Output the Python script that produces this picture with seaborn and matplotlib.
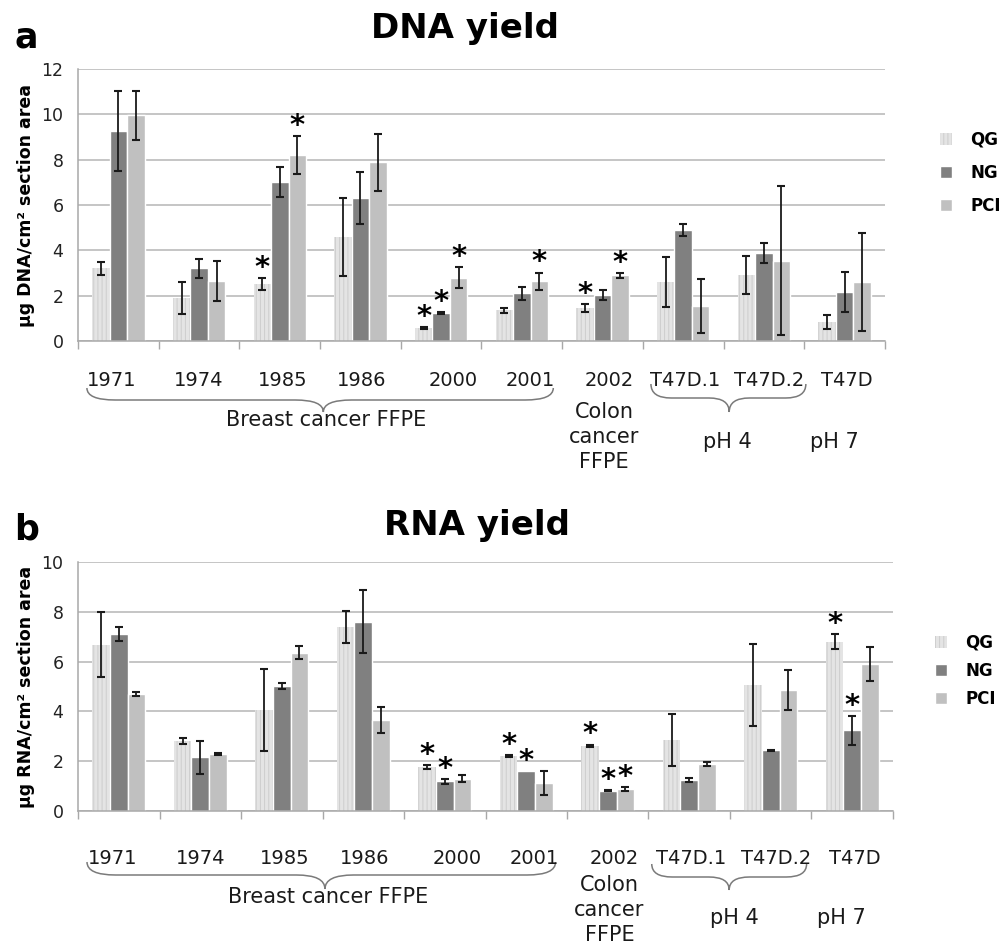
import numpy as np
import pandas as pd
import seaborn as sns
import matplotlib
matplotlib.use('Agg')
from matplotlib import pyplot as plt
from matplotlib.patches import Patch, PathPatch
from matplotlib.path import Path
from matplotlib.transforms import blended_transform_factory

samples = ['1971', '1974', '1985', '1986', '2000', '2001', '2002', 'T47D.1', 'T47D.2', 'T47D']
methods = ['QG', 'NG', 'PCI']

# DNA yield (ug DNA / cm2 section area)
dna_qg = [3.2, 1.9, 2.5, 4.6, 0.57, 1.35, 1.45, 2.6, 2.9, 0.84]
dna_qg_err = [0.27, 0.7, 0.27, 1.72, 0.04, 0.1, 0.17, 1.12, 0.84, 0.31]
dna_ng = [9.25, 3.2, 7.0, 6.3, 1.24, 2.1, 2.03, 4.9, 3.9, 2.15]
dna_ng_err = [1.76, 0.4, 0.66, 1.14, 0.04, 0.28, 0.21, 0.25, 0.44, 0.88]
dna_pci = [9.95, 2.66, 8.22, 7.88, 2.8, 2.63, 2.9, 1.55, 3.55, 2.6]
dna_pci_err = [1.07, 0.88, 0.83, 1.27, 0.45, 0.39, 0.1, 1.2, 3.3, 2.15]
dna_stars = {'QG': ['1985', '2000', '2002'], 'NG': ['2000'], 'PCI': ['1985', '2000', '2001', '2002']}

# RNA yield (ug RNA / cm2 section area)
rna_qg = [6.68, 2.8, 4.05, 7.4, 1.77, 2.2, 2.63, 2.85, 5.05, 6.8]
rna_qg_err = [1.3, 0.12, 1.65, 0.65, 0.08, 0.04, 0.04, 1.03, 1.65, 0.3]
rna_ng = [7.1, 2.15, 5.02, 7.6, 1.2, 1.6, 0.82, 1.25, 2.43, 3.25]
rna_ng_err = [0.28, 0.65, 0.13, 1.27, 0.1, np.nan, 0.03, 0.08, 0.03, 0.58]
rna_pci = [4.7, 2.27, 6.35, 3.65, 1.3, 1.12, 0.88, 1.9, 4.85, 5.9]
rna_pci_err = [0.07, 0.04, 0.26, 0.53, 0.14, 0.48, 0.08, 0.08, 0.8, 0.68]
rna_stars = {'QG': ['2000', '2001', '2002', 'T47D'], 'NG': ['2000', '2001', '2002', 'T47D'], 'PCI': ['2002']}

colors = {'QG': '#e4e4e4', 'NG': '#808080', 'PCI': '#c0c0c0'}
grid_col = '#b5b5b5'
H = 948.0

sns.set_style('white')
plt.rcParams['font.family'] = ['DejaVu Sans']
plt.rcParams['text.color'] = 'black'
plt.rcParams['axes.labelcolor'] = 'black'
plt.rcParams['hatch.linewidth'] = 0.7

fig = plt.figure(figsize=(10.03, 9.48), dpi=100)
ax1 = fig.add_axes([0.0778, 0.6403, 0.8045, 0.2869])
ax2 = fig.add_axes([0.0778, 0.1445, 0.8125, 0.2627])


def fy(px):
    return 1 - px / H


def brace(ax, x0, x1, xm, y0, y1, y2, r=0.35):
    tr = blended_transform_factory(ax.transData, fig.transFigure)
    y0, y1, y2 = fy(y0), fy(y1), fy(y2)
    verts = [(x0, y0), (x0, y1), (x0 + r, y1), (xm - r, y1), (xm, y1), (xm, y2),
             (xm, y1), (xm + r, y1), (x1 - r, y1), (x1, y1), (x1, y0)]
    codes = [Path.MOVETO, Path.CURVE3, Path.CURVE3, Path.LINETO, Path.CURVE3, Path.CURVE3,
             Path.CURVE3, Path.CURVE3, Path.LINETO, Path.CURVE3, Path.CURVE3]
    ax.add_patch(PathPatch(Path(verts, codes), fc='none', ec='#7a7a7a', lw=1.1,
                           transform=tr, clip_on=False))


def panel(ax, vals, errs, stars, ylim, ylabel, rows):
    df = pd.DataFrame({'sample': samples * 3,
                       'method': [m for m in methods for _ in samples],
                       'value': sum(vals, [])})
    sns.barplot(data=df, x='sample', y='value', hue='method', order=samples,
                hue_order=methods, palette=colors, width=0.65, saturation=1,
                errorbar=None, legend=False, ax=ax)
    for m, cont, err in zip(methods, ax.containers, errs):
        xs = np.array([p.get_x() + p.get_width() / 2 for p in cont])
        hs = np.array([p.get_height() for p in cont])
        err = np.array(err, dtype=float)
        if m == 'QG':
            for p in cont:
                p.set_hatch('||||')
                p.set_edgecolor('#cdcdcd')
                p.set_linewidth(0)
        ok = ~np.isnan(err)
        ax.errorbar(xs[ok], hs[ok], yerr=err[ok], fmt='none', ecolor='#1a1a1a',
                    elinewidth=1.3, capsize=3, capthick=1.5, zorder=4)
        top = hs + np.nan_to_num(err)
        for s in stars[m]:
            i = samples.index(s)
            ax.annotate('*', (xs[i], top[i]), xytext=(0, 1.5), textcoords='offset points',
                        ha='center', va='baseline', fontsize=21, fontweight='bold')
    ax.set_xlim(-0.5, 9.5)
    ax.set_ylim(*ylim)
    ax.set_yticks(np.arange(ylim[0], ylim[1] + 1, 2))
    ax.set_xticks(np.arange(-0.5, 10, 1))
    ax.set_xticklabels([])
    ax.set_xlabel('')
    ax.set_ylabel(ylabel, fontsize=12.5, fontweight='bold')
    ax.yaxis.set_label_coords(-0.053, 0.5)
    ax.grid(axis='y', color=grid_col, lw=1.1)
    ax.set_axisbelow(True)
    for sp in ['top', 'right']:
        ax.spines[sp].set_visible(False)
    for sp in ['left', 'bottom']:
        ax.spines[sp].set_color('#a8a8a8')
        ax.spines[sp].set_linewidth(1.1)
    ax.tick_params(axis='y', length=4.5, color=grid_col, width=1.1, labelsize=12.5, pad=6,
                   labelcolor='#222222')
    ax.tick_params(axis='x', length=5.5, color='#a8a8a8', width=1.0, bottom=True)

    tr = blended_transform_factory(ax.transData, fig.transFigure)
    yr, br, col, ph = rows
    shifts = [-0.08, 0.0, 0.04, 0.02, 0.15, 0.1, 0.08, 0.02, 0.07, 0.03]
    for i, s in enumerate(samples):
        ax.text(i + shifts[i], fy(yr), s, transform=tr, ha='center', va='center',
                fontsize=14, color='#1a1a1a')
    ax.text(2.57, fy(br), 'Breast cancer FFPE', transform=tr, ha='center', va='center',
            fontsize=15, color='#1a1a1a')
    ax.text(6.02, fy(col), 'Colon\ncancer\nFFPE', transform=tr, ha='center', va='center',
            fontsize=15, color='#1a1a1a', linespacing=1.3)
    ax.text(7.55, fy(ph), 'pH 4', transform=tr, ha='center', va='center',
            fontsize=15, color='#1a1a1a')
    ax.text(8.87, fy(ph), 'pH 7', transform=tr, ha='center', va='center',
            fontsize=15, color='#1a1a1a')


panel(ax1, [dna_qg, dna_ng, dna_pci], [dna_qg_err, dna_ng_err, dna_pci_err], dna_stars,
      (0, 12), 'µg DNA/cm² section area', (380, 420, 437, 442))
panel(ax2, [rna_qg, rna_ng, rna_pci], [rna_qg_err, rna_ng_err, rna_pci_err], rna_stars,
      (0, 10), 'µg RNA/cm² section area', (858, 897, 910, 918))

brace(ax1, -0.39, 5.39, 2.54, 388, 400, 412)
brace(ax1, 6.6, 8.52, 7.57, 384, 398, 412, r=0.25)
brace(ax2, -0.39, 5.36, 2.53, 862, 875, 889)
brace(ax2, 6.54, 8.44, 7.49, 864, 877, 890, r=0.25)

fig.text(0.4636, fy(38), 'DNA yield', ha='center', va='baseline', fontsize=24.5, fontweight='bold')
fig.text(0.014, fy(48), 'a', ha='left', va='baseline', fontsize=25, fontweight='bold')
fig.text(0.4756, fy(535), 'RNA yield', ha='center', va='baseline', fontsize=24.5, fontweight='bold')
fig.text(0.014, fy(540), 'b', ha='left', va='baseline', fontsize=25, fontweight='bold')

handles = [Patch(facecolor=colors['QG'], edgecolor='#cdcdcd', hatch='||||', linewidth=0),
           Patch(facecolor=colors['NG']), Patch(facecolor=colors['PCI'])]
fig.legend(handles, methods, loc='center left', bbox_to_anchor=(0.929, fy(173)), frameon=False,
           prop={'weight': 'bold', 'size': 12}, handlelength=0.7, handleheight=0.7,
           handletextpad=1.1, labelspacing=0.9, borderpad=0)
fig.legend(handles, methods, loc='center left', bbox_to_anchor=(0.924, fy(671)), frameon=False,
           prop={'weight': 'bold', 'size': 12}, handlelength=0.7, handleheight=0.7,
           handletextpad=1.1, labelspacing=0.6, borderpad=0)

fig.savefig('out.png', dpi=100)
